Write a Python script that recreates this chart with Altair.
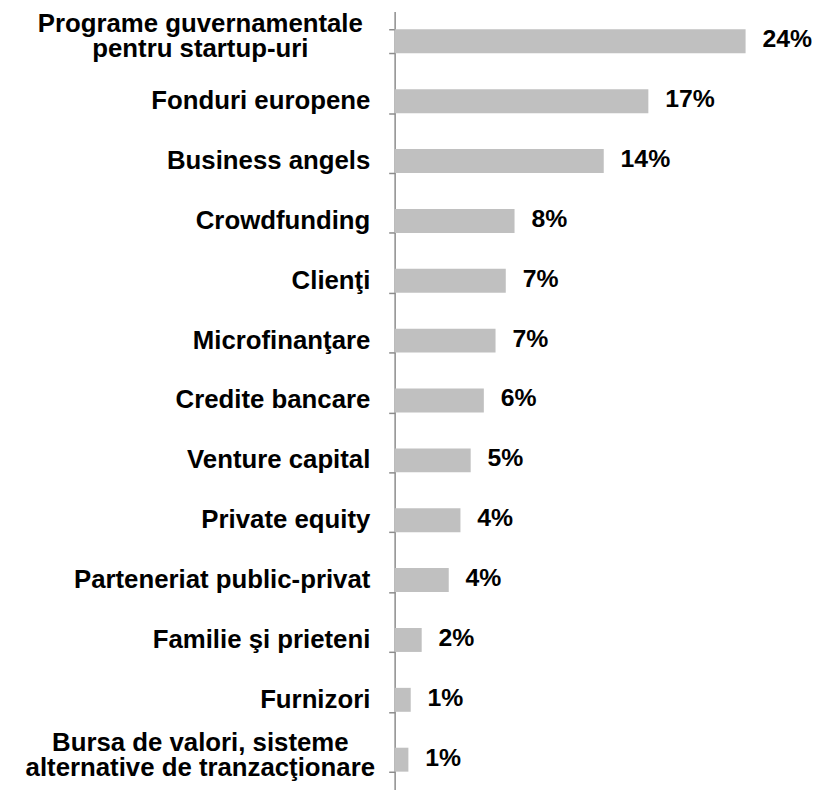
import altair as alt
import pandas as pd

categories = [
    "Programe guvernamentale\npentru startup-uri",
    "Fonduri europene",
    "Business angels",
    "Crowdfunding",
    "Clienţi",
    "Microfinanţare",
    "Credite bancare",
    "Venture capital",
    "Private equity",
    "Parteneriat public-privat",
    "Familie şi prieteni",
    "Furnizori",
    "Bursa de valori, sisteme\nalternative de tranzacţionare",
]
values = [24, 17.35, 14.3, 8.2, 7.6, 6.9, 6.1, 5.2, 4.5, 3.7, 1.85, 1.1, 0.94]
value_labels = ["24%", "17%", "14%", "8%", "7%", "7%", "6%", "5%", "4%", "4%", "2%", "1%", "1%"]

df = pd.DataFrame({"cat": categories, "val": values, "lbl": value_labels})

# category label lines (one row per printed line)
rows = []
for c in categories:
    parts = c.split("\n")
    for i, p in enumerate(parts):
        rows.append({"cat": c, "line": p, "idx": i + 1, "n": len(parts)})
lab = pd.DataFrame(rows)

FONT = "Liberation Sans"
GRAY = "#8c8c8c"

yscale = alt.Scale(paddingInner=0.6, paddingOuter=0.3)

y_enc = alt.Y(
    "cat:N",
    sort=categories,
    title=None,
    scale=yscale,
    axis=alt.Axis(
        labels=False,
        tickBand="extent",
        tickSize=6,
        tickColor=GRAY,
        tickWidth=1.5,
        domainColor=GRAY,
        domainWidth=1.5,
        minExtent=390,
        maxExtent=390,
        grid=False,
    ),
)
y_plain = alt.Y("cat:N", sort=categories)

x_enc = alt.X("val:Q", scale=alt.Scale(domain=[0, 24], nice=False, zero=True), axis=None)

bars = alt.Chart(df).mark_bar(color="#C0C0C0").encode(x=x_enc, y=y_enc)

texts = alt.Chart(df).mark_text(
    align="left", baseline="middle", dx=17, dy=-2,
    font=FONT, fontSize=25, fontWeight="bold", color="black",
).encode(x=x_enc, y=y_plain, text="lbl:N")

label_style = dict(baseline="middle", font=FONT, fontSize=26, fontWeight="bold", color="black")

single = alt.Chart(lab).transform_filter("datum.n == 1").mark_text(
    align="right", **label_style
).encode(x=alt.value(-24.5), y=y_plain, text="line:N")

multi1 = alt.Chart(lab).transform_filter("datum.n == 2 && datum.idx == 1").mark_text(
    align="center", dy=-17, **label_style
).encode(x=alt.value(-196), y=y_plain, text="line:N")

multi2 = alt.Chart(lab).transform_filter("datum.n == 2 && datum.idx == 2").mark_text(
    align="center", dy=8, **label_style
).encode(x=alt.value(-196), y=y_plain, text="line:N")

chart = (
    alt.layer(bars, texts, single, multi1, multi2)
    .properties(width=354, height=785, padding={"left": 0, "top": 0, "right": 0, "bottom": 0})
    .configure_view(stroke=None)
)

chart.save("out.html", embed_options={"renderer": "svg", "actions": False})
